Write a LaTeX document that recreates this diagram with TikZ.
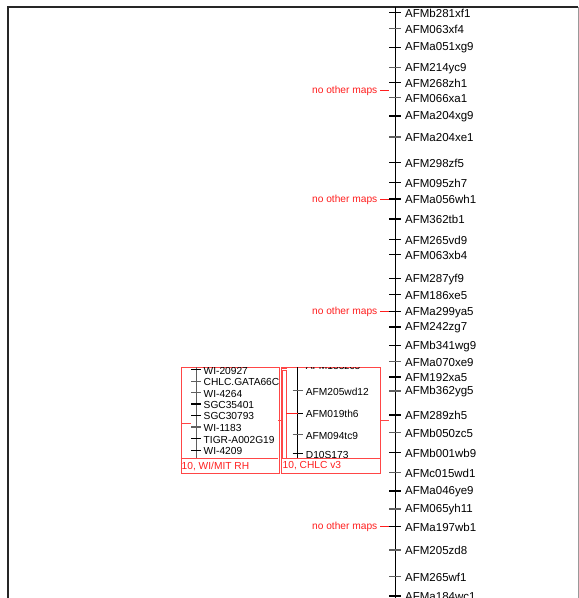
\documentclass[tikz,border=0pt]{standalone}
\usepackage{fontspec}
\setmainfont{Liberation Sans}
\definecolor{tk}{RGB}{95,95,95}
\definecolor{rd}{RGB}{255,30,30}
\definecolor{bx}{RGB}{255,70,70}
\begin{document}
\begin{tikzpicture}[x=1pt,y=-1pt,
  lbl/.style={anchor=west,inner sep=0pt,font=\fontsize{11.5}{12}\selectfont},
  slbl/.style={anchor=west,inner sep=0pt,font=\fontsize{10.2}{11}\selectfont},
  nom/.style={anchor=east,inner sep=0pt,text=rd,font=\fontsize{10.2}{11}\selectfont},
  mapbox/.style={draw=bx,line width=0.8pt},
  redline/.style={draw=rd,line width=0.9pt},
  tick/.style={line width=1.2pt}]
\useasboundingbox (0,0) rectangle (579,598);
% frame
\draw[line width=1.3pt,black!85] (8,598) -- (8,7) -- (578,7);
\draw[line width=0.6pt,black!40] (578,7) -- (578,598);
% main axis
\coordinate (axtop) at (395,7);
\coordinate (axbot) at (395,598);
\draw[line width=1pt] (axtop) -- (axbot);
\foreach \n/\y/\c [count=\i] in {
 AFMb281xf1/12.5/black, AFM063xf4/28.5/tk, AFMa051xg9/47.3/black,
 AFM214yc9/67.7/tk, AFM268zh1/82.3/black, AFM066xa1/97.5/tk,
 AFMa204xg9/116/black, AFMa204xe1/137/tk, AFM298zf5/162.3/black,
 AFM095zh7/182.5/black, AFMa056wh1/199/black, AFM362tb1/219/black,
 AFM265vd9/239.5/black, AFM063xb4/254.5/black, AFM287yf9/278.5/black,
 AFM186xe5/294.5/black, AFMa299ya5/311.7/black, AFM242zg7/327/black,
 AFMb341wg9/345.7/black, AFMa070xe9/361.7/tk, AFM192xa5/377/black,
 AFMb362yg5/391/tk, AFM289zh5/415/black, AFMb050zc5/432.5/tk,
 AFMb001wb9/452.3/black, AFMc015wd1/472.7/tk, AFMa046ye9/491/black,
 AFM065yh11/509/tk, AFMa197wb1/526.7/black, AFM205zd8/550/tk,
 AFM265wf1/576.7/tk, AFMa184wc1/596/black}{
  \draw[tick,draw=\c] (389,\y) -- (401,\y);
  \node[lbl] (m\i) at (405,\y+0.6) {\n};
}
% no other maps
\foreach \y [count=\i] in {90.7,199,311.7,526.7}{
  \node[nom] (nom\i) at (377.5,\y+0.6) {no other maps};
  \coordinate (nomend\i) at (389,\y);
  \coordinate (nomstart\i) at (380,\y);
  \draw[redline] (nomstart\i) -- (nomend\i);
}
% box 1: WI/MIT RH
\node[mapbox,minimum width=98pt,minimum height=105.5pt,anchor=north west,inner sep=0pt] (box1) at (180.5,367.2) {};
\begin{scope}
  \clip (180.5,367.2) rectangle (278.3,458.3);
  \draw[line width=1pt,tk] (196,362) -- (196,458.3);
  \foreach \n/\y/\c [count=\i] in {WI-20927/369.5/black, CHLC.GATA66C01/381.3/tk,
    WI-4264/392.7/tk, SGC35401/404/black, SGC30793/415.3/black,
    WI-1183/427/tk, TIGR-A002G19/438.7/black, WI-4209/450.3/black}{
    \draw[tick,draw=\c] (191,\y) -- (201,\y);
    \node[slbl] (w\i) at (203.5,\y+1) {\n};
  }
\end{scope}
\draw[draw=bx,line width=0.8pt] (180.5,458.3) -- (278.3,458.3);
\node[anchor=west,inner sep=0pt,text=rd,font=\fontsize{10.2}{11}\selectfont] (b1lbl) at (181.5,466) {10, WI/MIT RH};
\coordinate (b1l) at (181,423.7);
\coordinate (b1r) at (191,423.7);
\draw[draw=bx,line width=0.8pt] (b1l) -- (b1r);
% box 2: CHLC v3
\node[mapbox,minimum width=98.7pt,minimum height=105.5pt,anchor=north west,inner sep=0pt] (box2) at (281.3,367.2) {};
\begin{scope}
  \clip (281.3,367.2) rectangle (380,458.3);
  \draw[line width=1pt] (297.5,362) -- (297.5,458.3);
  \foreach \n/\y/\c [count=\i] in {AFM133zc5/365.5/black, AFM205wd12/390.7/tk,
    AFM019th6/413.3/black, AFM094tc9/434.7/tk, D10S173/453.7/black}{
    \draw[tick,draw=\c] (292.7,\y) -- (302.7,\y);
    \node[slbl] (c\i) at (305.7,\y+0.8) {\n};
  }
  \draw[draw=bx,line width=0.7pt] (282.3,370) rectangle (286,458.3);
  \draw[draw=bx,line width=0.7pt] (282.3,368.5) -- (287,368.5);
  \draw[redline] (286,413.3) -- (297.5,413.3);
\end{scope}
\draw[draw=bx,line width=0.8pt] (281.3,458.3) -- (380,458.3);
\node[anchor=west,inner sep=0pt,text=rd,font=\fontsize{10.2}{11}\selectfont] (b2lbl) at (282.5,466) {10, CHLC v3};
% connectors
\coordinate (b1b2a) at (278.3,420.7);
\coordinate (b1b2b) at (281.3,420.7);
\draw[draw=bx,line width=0.8pt] (b1b2a) -- (b1b2b);
\coordinate (b2ax) at (389,420);
\draw[draw=bx,line width=0.8pt] (box2.east |- b2ax) -- (b2ax);
\end{tikzpicture}
\end{document}
